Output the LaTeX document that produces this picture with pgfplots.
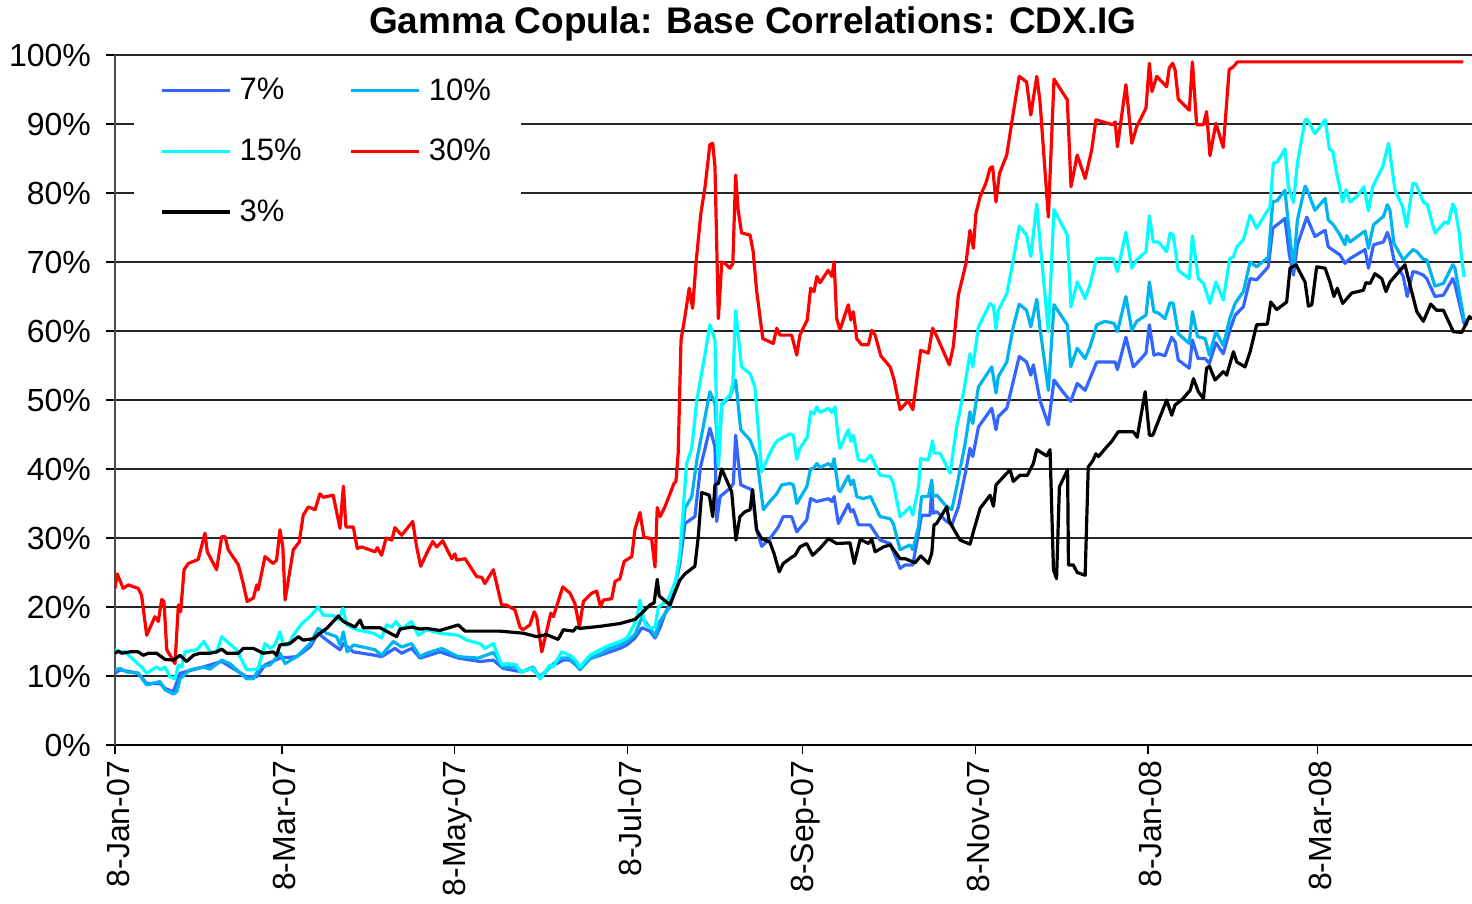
\documentclass[border=0pt]{standalone}
\usepackage{pgfplots}
\pgfplotsset{compat=1.18}
\usepackage{fontspec}
\setmainfont{Liberation Sans}
\definecolor{c7}{RGB}{51,102,255}
\definecolor{c10}{RGB}{0,180,240}
\definecolor{c15}{RGB}{0,255,255}
\definecolor{c30}{RGB}{255,0,0}
\begin{document}
\begin{tikzpicture}
\begin{axis}[
  at={(0,0)}, anchor=south west,
  scale only axis, width=678.5pt, height=345pt,
  xmin=0, xmax=479.5, ymin=0, ymax=100,
  axis lines*=left,
  x axis line style={black, line width=0.8pt},
  y axis line style={black!70, line width=0.8pt},
  ytick={0,10,...,100},
  yticklabels={0\%,10\%,20\%,30\%,40\%,50\%,60\%,70\%,80\%,90\%,100\%},
  xtick={0,59,120,181,243,304,365,425},
  xticklabels={8-Jan-07,8-Mar-07,8-May-07,8-Jul-07,8-Sep-07,8-Nov-07,8-Jan-08,8-Mar-08},
  tick align=outside,
  major tick length=4.5pt,
  tick style={black, line width=0.6pt},
  ymajorgrids,
  grid style={black!85, line width=0.7pt},
  ticklabel style={font=\fontsize{16}{19}\selectfont},
  xticklabel style={rotate=90, anchor=east, yshift=-1.5pt},
  yticklabel style={xshift=-4pt},
  title={Gamma Copula: Base Correlations: CDX.IG},
  title style={at={(0.47,1)}, anchor=center, yshift=9.5pt, font=\bfseries\fontsize{18.5}{22}\selectfont},
  legend columns=2,
  legend cell align=left,
  legend style={
    at={(axis description cs:0,1)}, anchor=north west,
    xshift=9.5pt, yshift=-1.5pt,
    draw=none, fill=white,
    inner xsep=13pt, inner ysep=8pt,
    font=\fontsize{15.5}{18}\selectfont,
    row sep=14pt,
    /tikz/every even column/.append style={column sep=22pt},
    /tikz/every odd column/.append style={column sep=2pt},
  },
  legend image code/.code={\draw[#1] (0pt,0pt) -- (34pt,0pt);},
  every axis plot/.append style={line width=1.6pt, line join=round},
]
% 7%
\addplot[c7] coordinates {
(0,10.4)(1.8,10.9)(8.2,10.4)(11.2,8.9)(15.9,8.9)(17.7,8.2)(20.6,7.7)(23.0,10.4)(31.2,11.3)(37.7,12.1)(46.5,9.9)(50.1,9.9)(53.0,11.6)(58.3,12.6)(64.2,12.8)(68.9,14.2)(71.8,16.2)(74.8,15.2)(79.5,13.8)(80.7,14.7)(84.2,13.5)(91.9,13.0)(94.2,12.8)(98.9,14.0)(101.3,13.3)(104.8,14.0)(107.8,12.6)(114.8,13.5)(121.3,12.6)(129.0,12.1)(133.7,12.3)(137.2,11.1)(143.7,10.6)(147.2,11.1)(150.2,9.9)(153.7,11.3)(158.4,12.3)(160.8,12.3)(164.3,11.1)(167.8,12.5)(171.4,13.0)(174.9,13.5)(178.4,14.0)(180.9,14.5)(183.7,15.5)(186.2,17.0)(189.0,16.5)(190.8,15.5)(192.6,17.0)(194.3,19.0)(196.8,21.0)(199.6,26.3)(201.4,32.1)(204.9,33.1)(206.9,40.3)(210.2,45.9)(212.0,43.2)(212.6,32.4)(213.8,36.0)(217.3,37.2)(218.5,37.9)(219.3,44.9)(221.1,37.7)(225.0,37.0)(226.7,31.2)(228.5,28.8)(231.4,29.9)(234.4,31.6)(236.1,33.1)(239.1,33.1)(240.9,30.9)(244.4,32.6)(245.8,35.7)(248.0,35.3)(252.1,35.7)(253.3,35.3)(254.1,36.0)(255.6,32.1)(259.1,34.9)(260.0,33.8)(260.9,34.1)(262.7,31.9)(266.8,31.9)(270.3,29.7)(273.9,29.2)(277.4,25.6)(279.2,26.1)(281.9,26.1)(285.0,33.3)(288.0,33.3)(288.6,37.0)(289.1,33.6)(290.4,33.8)(293.3,32.6)(295.7,31.9)(298.0,34.5)(300.7,39.9)(302.1,43.0)(303.1,41.8)(305.1,46.1)(309.8,48.8)(311.3,45.7)(312.1,47.6)(315.1,48.8)(317.4,52.7)(319.5,56.3)(322.1,55.5)(323.6,53.6)(324.5,55.1)(326.8,50.0)(329.8,46.4)(331.8,52.9)(334.5,51.4)(337.7,49.8)(340.0,52.4)(342.8,51.4)(344.5,53.1)(346.9,55.5)(353.4,55.5)(354.2,54.4)(357.2,59.1)(359.8,54.8)(361.0,55.3)(364.3,56.8)(365.5,60.9)(367.1,56.5)(368.7,56.7)(371.0,56.4)(373.4,59.1)(374.6,58.4)(375.7,55.8)(379.6,54.6)(380.7,58.7)(382.7,56.0)(385.2,56.0)(386.7,55.3)(389.0,58.3)(391.6,56.7)(393.9,60.1)(395.8,62.3)(398.7,63.5)(401.1,67.6)(403.4,67.4)(407.5,69.3)(409.1,74.9)(413.4,76.3)(414.9,71.2)(416.4,68.1)(417.8,72.5)(421.1,76.5)(424.0,73.7)(427.6,74.6)(428.7,72.2)(432.9,71.0)(434.6,69.8)(436.4,70.5)(441.7,71.8)(442.9,69.1)(444.7,72.5)(448.2,72.9)(449.6,74.3)(450.5,73.2)(451.9,70.3)(455.2,67.9)(456.6,65.0)(458.6,68.6)(460.0,68.5)(462.3,68.1)(463.5,67.6)(466.4,65.0)(469.4,65.2)(472.7,67.6)(473.5,66.7)(476.7,61.1)(478.1,61.0)
};
\addlegendentry{7\%}
% 10%
\addplot[c10] coordinates {
(0,10.9)(1.8,11.1)(4.1,10.6)(8.2,10.4)(11.2,8.7)(15.9,9.2)(17.7,8.0)(20.6,7.4)(21.8,7.7)(23.0,9.6)(26.5,10.9)(31.2,11.3)(33.6,11.0)(37.7,12.3)(40.6,11.8)(46.5,9.6)(48.9,9.6)(51.2,11.3)(54.8,11.6)(58.3,13.3)(60.1,11.8)(64.2,12.8)(68.9,14.7)(71.8,16.9)(74.8,16.2)(78.3,15.7)(79.5,14.5)(80.7,16.4)(82.0,13.5)(84.2,14.5)(91.9,13.8)(94.2,13.0)(98.3,15.0)(101.3,14.2)(104.8,14.7)(107.8,12.8)(110.1,13.3)(115.4,14.0)(121.3,12.8)(128.4,12.6)(133.7,13.4)(137.2,11.3)(141.9,11.3)(143.7,10.6)(147.8,11.3)(150.2,9.6)(153.7,11.3)(157.2,12.6)(160.8,12.6)(164.3,10.9)(167.8,12.5)(171.4,13.2)(174.9,14.0)(178.4,14.5)(180.9,15.0)(183.7,16.0)(186.2,18.5)(189.0,17.0)(190.8,15.8)(192.6,18.0)(196.1,20.0)(199.6,26.8)(201.4,34.3)(203.8,36.0)(205.6,41.3)(210.2,51.2)(212.0,49.5)(213.2,40.8)(214.4,49.3)(217.3,50.5)(219.3,52.9)(221.1,45.7)(224.4,44.2)(226.7,41.8)(229.1,34.1)(231.4,35.3)(233.8,36.4)(235.6,37.7)(238.5,37.9)(239.7,37.7)(240.9,35.0)(244.4,37.4)(245.8,40.0)(247.0,40.2)(248.0,40.8)(249.1,40.2)(252.1,40.8)(253.3,40.3)(254.1,41.5)(255.6,37.0)(256.2,36.7)(259.1,39.0)(260.0,37.7)(260.9,38.4)(262.1,36.0)(264.4,35.7)(267.0,36.0)(270.3,33.1)(273.9,32.8)(275.0,32.1)(277.4,28.3)(280.9,29.0)(281.9,28.3)(283.9,31.6)(285.0,36.0)(287.4,36.0)(288.6,38.4)(289.1,36.0)(290.4,36.2)(293.3,34.8)(295.7,34.1)(297.4,37.4)(300.4,43.7)(302.1,48.3)(303.1,46.6)(305.1,51.9)(309.8,54.8)(311.3,51.0)(312.1,53.4)(315.1,55.5)(317.4,60.6)(319.5,63.9)(322.1,63.0)(323.6,60.6)(325.7,64.6)(326.8,60.6)(329.8,51.4)(331.8,63.8)(336.5,60.9)(337.7,54.8)(340.0,57.5)(342.8,56.0)(344.5,57.7)(346.9,60.9)(349.8,61.4)(353.0,61.1)(354.2,59.9)(357.2,65.0)(359.3,60.1)(361.0,61.4)(364.3,62.3)(365.5,67.1)(367.1,62.8)(368.7,62.6)(371.0,61.8)(372.8,64.1)(373.9,64.0)(375.7,59.6)(379.6,58.2)(380.7,62.8)(382.5,59.2)(385.2,58.9)(386.7,56.5)(389.0,59.9)(391.6,57.9)(393.9,61.8)(395.8,64.0)(398.7,65.7)(401.1,70.0)(403.4,69.3)(407.5,70.7)(409.1,78.7)(410.7,78.9)(413.4,80.4)(414.6,75.6)(416.4,69.1)(417.8,76.1)(420.5,81.0)(421.3,80.4)(424.0,77.5)(427.6,79.2)(428.7,76.1)(430.5,75.4)(432.9,73.9)(434.6,72.5)(435.2,73.8)(436.4,72.9)(441.7,74.5)(442.9,72.0)(444.7,75.4)(448.2,76.6)(449.6,78.3)(450.5,77.5)(451.9,72.7)(455.2,70.3)(458.6,71.8)(460.0,71.5)(462.3,70.4)(463.5,70.3)(466.4,66.5)(469.4,66.9)(472.7,69.6)(473.5,69.1)(476.7,61.6)(478.1,61.5)
};
\addlegendentry{10\%}
% 15%
\addplot[c15] coordinates {
(0,13.8)(1.8,13.5)(3.5,13.5)(9.4,11.3)(11.2,10.4)(14.7,11.3)(16.1,10.9)(17.7,11.3)(19.4,9.9)(21.2,9.6)(22.4,11.6)(23.6,11.3)(24.7,13.5)(28.9,13.8)(31.4,15.0)(33.6,13.5)(35.9,13.4)(37.7,15.7)(39.5,15.0)(43.0,13.8)(46.5,10.9)(48.9,10.9)(50.6,11.1)(53.0,14.7)(54.8,14.0)(56.5,14.5)(58.3,16.4)(59.5,14.5)(61.2,14.5)(63.0,15.9)(66.0,17.6)(68.9,18.6)(71.8,20.0)(73.6,18.8)(77.1,18.8)(78.9,18.1)(80.5,19.8)(81.9,17.4)(85.4,16.7)(91.3,16.2)(94.2,15.5)(96.0,17.4)(97.8,17.1)(99.3,17.9)(101.3,16.8)(104.8,17.9)(107.2,15.9)(110.1,16.7)(114.8,16.2)(121.3,15.9)(124.3,15.2)(129.0,14.7)(130.7,14.0)(133.7,14.7)(136.6,11.6)(138.4,11.8)(141.9,11.6)(143.1,10.6)(147.8,11.1)(150.2,9.6)(153.7,11.6)(154.9,11.3)(157.8,13.5)(160.8,13.0)(163.1,12.1)(164.3,11.3)(167.8,13.0)(171.4,13.8)(174.9,14.5)(178.4,15.0)(180.9,15.5)(184.3,18.1)(185.5,21.0)(187.3,17.5)(189.0,17.0)(190.8,17.0)(192.0,20.0)(195.4,21.0)(198.2,23.9)(199.6,27.8)(202.0,40.8)(203.8,43.0)(205.6,50.0)(208.5,56.7)(210.2,60.9)(212.0,58.7)(212.8,44.2)(213.2,40.3)(214.4,49.5)(217.3,50.7)(218.3,52.4)(219.3,63.0)(221.4,54.8)(224.4,53.8)(226.1,51.9)(228.5,39.6)(231.4,42.3)(233.2,43.7)(234.4,44.2)(238.5,45.1)(239.7,44.9)(240.9,41.4)(242.0,43.0)(244.6,44.6)(245.8,48.3)(247.0,48.0)(248.0,49.0)(249.1,48.2)(252.1,48.8)(253.3,48.2)(254.4,49.0)(255.6,44.4)(256.2,43.0)(259.1,45.7)(260.0,44.0)(260.9,44.9)(262.7,41.3)(265.0,41.1)(267.0,42.0)(270.3,39.1)(273.9,38.9)(275.0,37.9)(277.4,33.1)(280.9,34.5)(281.9,33.3)(283.9,37.4)(284.7,41.5)(287.4,41.3)(288.9,44.1)(289.4,42.3)(291.5,42.3)(295.1,39.4)(297.4,46.1)(299.8,51.0)(302.1,56.7)(303.1,54.8)(305.1,60.6)(309.2,64.0)(310.4,63.6)(311.3,60.3)(312.1,63.0)(315.1,65.4)(317.2,69.8)(319.5,75.2)(322.1,73.9)(323.6,70.8)(325.7,78.4)(326.8,73.2)(329.8,59.9)(331.8,77.6)(336.5,73.9)(337.8,63.5)(340.0,67.1)(342.8,64.7)(344.5,66.7)(346.8,70.5)(352.7,70.5)(354.2,68.6)(357.2,74.3)(359.3,69.1)(361.0,70.3)(364.3,71.5)(365.5,76.7)(366.9,72.9)(368.7,72.9)(371.6,71.5)(372.8,74.2)(373.9,73.9)(375.7,68.8)(379.6,67.6)(380.7,73.8)(382.8,67.6)(384.6,66.9)(386.9,64.0)(389.0,67.1)(391.6,64.5)(393.9,70.5)(395.2,70.7)(396.4,72.2)(398.7,73.2)(401.1,76.8)(403.4,74.9)(408.1,78.0)(409.3,84.3)(410.7,84.5)(413.4,86.4)(414.6,80.9)(416.4,78.6)(417.8,84.3)(420.5,90.6)(421.3,90.7)(424.0,88.6)(427.6,90.6)(429.1,86.4)(430.3,86.0)(431.7,82.8)(433.8,78.7)(435.0,80.5)(436.4,78.7)(438.8,79.5)(441.3,80.9)(442.9,77.4)(444.4,80.9)(448.0,83.9)(450.0,87.2)(452.3,80.4)(455.0,78.0)(456.4,75.1)(458.6,81.4)(459.7,81.3)(462.3,78.7)(463.7,78.3)(466.4,74.2)(469.9,75.8)(471.1,75.6)(472.7,78.4)(473.5,77.8)(475.0,74.2)(475.6,71.5)(476.7,67.8)
};
\addlegendentry{15\%}
% 30%
\addplot[c30] coordinates {
(0,22.7)(0.8,24.8)(2.9,22.7)(4.7,23.2)(8.2,22.7)(9.4,21.7)(11.2,15.9)(14.1,18.6)(15.3,17.9)(16.5,21.1)(17.3,20.8)(18.3,13.8)(21.2,11.8)(22.4,20.3)(23.2,19.3)(24.4,25.4)(25.9,26.3)(29.4,26.9)(31.8,30.7)(32.6,28.0)(35.9,25.4)(37.7,30.2)(38.9,30.2)(40.0,28.3)(43.6,26.1)(45.3,23.4)(46.7,20.8)(48.9,21.3)(50.1,23.2)(50.6,22.5)(53.0,27.3)(55.9,26.3)(57.1,26.8)(58.3,31.2)(59.3,28.7)(60.1,21.0)(63.0,28.3)(65.1,29.4)(66.5,33.3)(68.3,34.5)(70.7,34.1)(72.4,36.4)(73.6,35.9)(77.1,36.2)(79.5,31.4)(80.7,37.5)(81.6,31.6)(84.2,31.6)(85.6,28.5)(87.2,28.7)(91.9,28.0)(92.7,28.6)(94.2,27.5)(95.8,30.0)(97.8,29.7)(98.9,31.5)(101.3,30.4)(105.2,32.4)(106.6,28.7)(108.0,25.9)(110.4,28.0)(112.3,29.5)(113.7,28.7)(115.8,29.6)(119.0,27.0)(120.1,27.7)(120.7,26.8)(123.7,27.0)(127.8,24.4)(129.6,24.3)(130.7,23.4)(133.7,25.4)(136.6,20.3)(138.2,20.3)(141.3,19.6)(143.1,17.1)(144.1,16.7)(146.6,17.4)(148.1,19.3)(149.0,18.6)(150.8,13.5)(154.0,19.1)(154.9,18.6)(158.2,22.9)(160.8,22.0)(162.5,20.5)(164.1,17.1)(165.5,20.8)(168.4,22.0)(170.2,22.3)(171.6,20.0)(172.5,21.0)(175.5,21.2)(176.7,23.7)(178.4,24.1)(179.9,26.6)(182.6,27.3)(183.7,31.2)(185.5,33.7)(186.9,30.1)(189.6,29.9)(190.8,25.8)(191.6,34.4)(192.6,33.1)(194.3,34.5)(196.1,36.4)(197.5,37.9)(198.2,38.2)(199.0,42.3)(200.0,58.7)(201.4,62.1)(202.9,66.2)(204.1,63.3)(205.3,69.8)(207.0,77.0)(208.5,80.9)(210.2,87.0)(211.2,87.2)(212.0,83.8)(213.2,61.8)(214.4,70.0)(215.5,69.8)(217.3,69.1)(218.3,69.8)(219.3,82.6)(220.2,77.5)(221.4,74.2)(224.4,73.9)(225.5,71.5)(226.7,65.9)(228.9,58.9)(232.6,58.2)(233.8,60.4)(235.0,59.4)(239.1,59.4)(240.9,56.5)(242.0,59.4)(244.6,61.6)(245.8,66.2)(247.0,65.7)(248.0,67.9)(249.1,67.0)(252.0,68.8)(253.3,67.9)(254.1,70.0)(255.0,61.8)(256.2,60.2)(259.1,63.8)(260.0,61.6)(260.9,62.8)(262.1,58.9)(263.8,58.0)(266.2,58.0)(267.4,60.1)(268.6,59.4)(270.6,56.4)(273.9,54.8)(275.3,52.9)(277.4,48.6)(280.3,49.9)(281.9,48.6)(284.7,57.2)(287.4,56.8)(288.9,60.4)(290.4,59.2)(294.8,55.1)(296.2,57.7)(298.0,65.2)(300.7,69.8)(302.1,74.6)(303.3,72.0)(304.2,77.0)(305.7,79.5)(307.8,81.5)(309.2,83.6)(310.1,83.8)(311.3,78.7)(312.5,82.8)(315.1,85.5)(317.2,91.1)(319.5,96.9)(322.1,96.1)(323.6,91.3)(325.7,96.9)(326.8,93.5)(329.8,76.5)(331.8,96.5)(336.5,93.5)(337.8,80.9)(340.0,85.5)(342.8,82.1)(345.1,86.2)(346.6,90.6)(352.5,89.9)(353.4,90.3)(354.2,86.7)(357.2,95.7)(359.3,87.2)(361.0,89.6)(364.3,92.3)(365.5,98.8)(366.4,94.7)(368.1,96.9)(371.6,95.4)(372.5,98.1)(373.7,98.8)(374.6,97.8)(375.7,93.6)(379.6,92.0)(380.7,99.0)(382.2,89.9)(384.6,89.9)(385.7,91.8)(386.9,85.4)(389.0,90.1)(391.6,86.6)(393.7,97.9)(395.2,98.3)(396.6,99.0)(476.4,99.0)
};
\addlegendentry{30\%}
% 3%
\addplot[black] coordinates {
(0,13.3)(1.2,13.6)(2.4,13.3)(5.3,13.5)(8.2,13.5)(10.0,13.0)(11.8,13.3)(14.7,13.3)(17.7,12.4)(20.6,12.3)(23.0,13.0)(25.3,12.1)(27.7,13.0)(30.0,13.3)(33.6,13.3)(35.9,13.5)(37.7,13.9)(39.5,13.3)(43.6,13.3)(45.3,14.0)(48.9,14.0)(52.4,13.3)(55.9,13.5)(57.1,13.0)(58.3,14.5)(61.8,14.7)(64.8,15.7)(66.5,15.2)(70.1,15.4)(72.4,16.2)(74.8,16.9)(78.9,18.7)(80.7,17.9)(84.8,17.1)(86.6,18.1)(87.7,17.0)(93.6,17.0)(99.5,15.7)(100.7,16.8)(104.8,17.1)(107.8,16.8)(110.1,16.9)(114.8,16.6)(121.3,17.4)(123.7,16.5)(136.0,16.5)(144.3,16.2)(149.0,15.7)(152.5,16.0)(156.6,15.3)(158.4,16.7)(161.9,16.5)(163.1,17.1)(164.3,16.9)(171.4,17.2)(178.4,17.6)(183.7,18.2)(186.1,19.1)(189.0,20.3)(190.5,20.6)(191.6,24.0)(192.3,21.6)(196.1,20.3)(198.2,22.5)(199.6,23.9)(201.4,24.8)(204.9,25.9)(206.1,30.2)(207.3,36.6)(210.0,36.2)(211.2,33.1)(212.0,37.7)(213.2,37.9)(214.4,40.0)(217.9,36.7)(219.4,29.7)(220.8,33.1)(222.6,33.8)(224.4,34.1)(225.3,37.0)(226.7,31.2)(228.5,29.9)(231.4,29.4)(232.9,27.7)(234.7,25.1)(236.1,26.3)(239.1,27.2)(240.3,27.5)(242.0,28.7)(244.4,29.2)(246.5,27.5)(249.1,28.5)(252.1,29.9)(255.0,29.2)(259.7,29.3)(261.2,26.3)(263.3,29.8)(266.2,29.2)(267.4,29.8)(268.6,28.0)(271.5,28.7)(273.9,29.0)(277.4,27.0)(279.2,27.0)(282.7,26.4)(284.7,27.4)(287.4,26.3)(288.6,27.8)(289.4,31.9)(290.3,32.1)(293.9,34.5)(294.8,32.4)(298.6,29.7)(302.1,29.1)(303.5,31.2)(305.7,34.3)(309.2,36.2)(310.4,34.6)(311.3,37.7)(316.3,39.9)(317.4,38.2)(319.8,39.1)(322.4,39.1)(324.5,40.8)(325.7,42.8)(329.2,41.9)(330.4,42.8)(331.6,25.4)(332.7,24.1)(333.7,37.4)(336.6,39.9)(336.9,26.1)(338.6,26.1)(340.0,25.0)(342.8,24.6)(343.9,40.3)(345.5,41.2)(346.6,42.2)(347.5,41.8)(350.4,43.2)(352.2,44.0)(354.5,45.4)(359.8,45.4)(361.2,44.6)(364.0,51.2)(365.5,44.9)(366.7,44.9)(371.6,50.0)(373.4,47.8)(374.6,49.3)(376.9,50.0)(379.9,51.4)(381.1,53.1)(382.8,51.2)(384.6,50.2)(385.7,54.6)(386.7,54.9)(388.7,52.9)(391.6,54.1)(392.8,53.6)(395.2,57.0)(396.4,55.5)(399.3,54.8)(401.1,57.0)(403.4,60.9)(407.2,61.0)(408.4,64.2)(410.5,63.1)(414.0,64.2)(415.2,69.1)(417.3,69.6)(420.5,67.1)(421.7,63.6)(422.9,63.8)(424.6,69.3)(427.6,69.1)(429.3,67.1)(430.7,65.0)(431.9,66.2)(433.8,64.0)(437.0,65.5)(441.1,65.9)(442.0,67.0)(443.5,66.9)(445.2,68.3)(447.6,67.6)(449.1,65.7)(450.5,67.1)(455.8,69.6)(457.0,67.6)(460.0,62.8)(462.3,61.4)(464.9,63.9)(467.0,63.0)(469.4,63.0)(472.9,59.9)(475.9,59.8)(478.6,62.1)(479.5,61.7)
};
\addlegendentry{3\%}
\end{axis}
\pgfresetboundingbox
\path (-57.5pt,-79.5pt) rectangle (678.5pt,372.5pt);
\end{tikzpicture}
\end{document}
